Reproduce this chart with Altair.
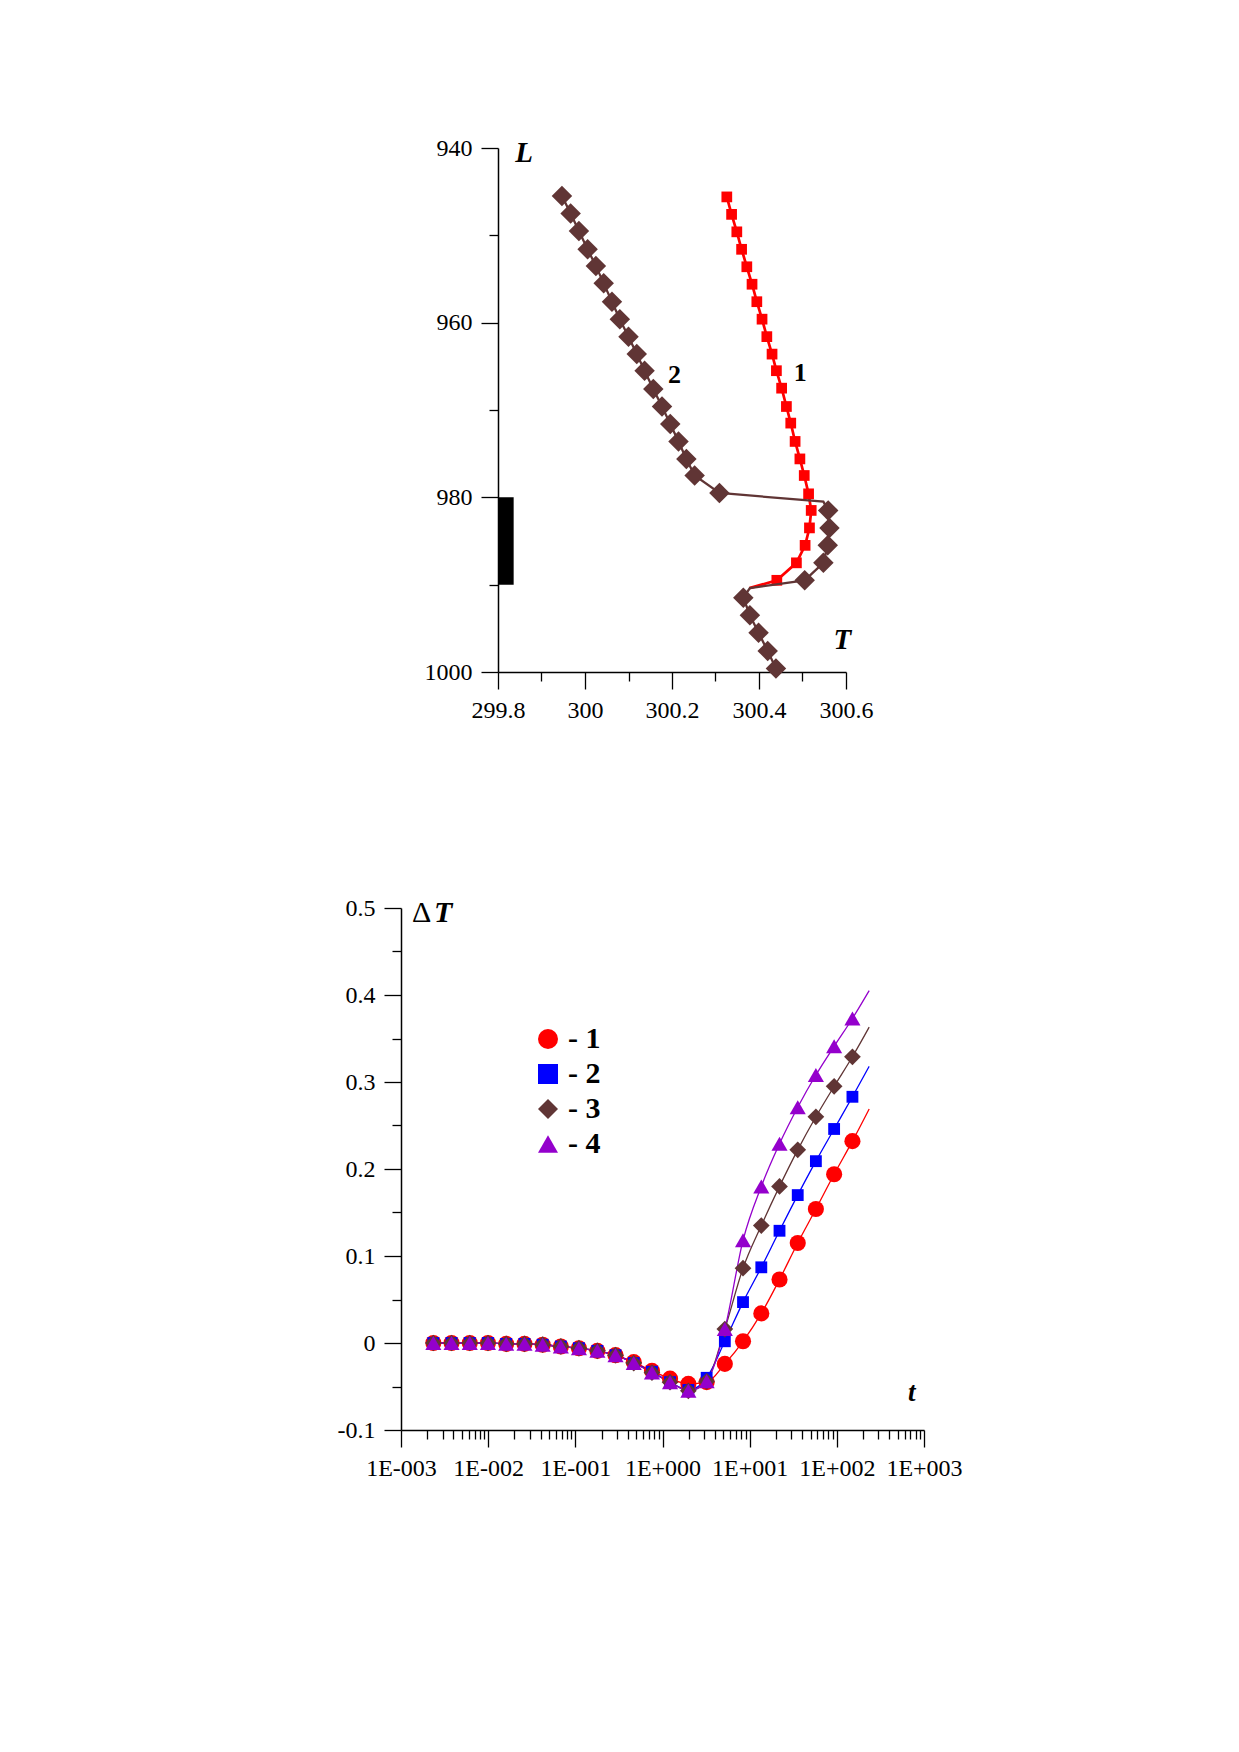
import altair as alt
import pandas as pd

FONT = "Liberation Serif"
RED = "#ff0000"
BLUE = "#0000ff"
BROWN = "#603535"
PURPLE = "#9400cc"

# ---------------- upper panel: profiles T(L) ----------------
L1 = [945.6, 947.6, 949.6, 951.6, 953.6, 955.6, 957.6, 959.6, 961.6, 963.6, 965.5, 967.5,
      969.6, 971.5, 973.6, 975.6, 977.5, 979.6, 981.5, 983.5, 985.5, 987.5, 989.5, 990.4]
T1 = [300.326, 300.337, 300.349, 300.360, 300.372, 300.384, 300.395, 300.407, 300.418, 300.430,
      300.440, 300.452, 300.463, 300.473, 300.483, 300.494, 300.504, 300.514, 300.520, 300.516,
      300.506, 300.486, 300.441, 300.378]
M1 = [1, 1, 1, 1, 1, 1, 1, 1, 1, 1, 1, 1, 1, 1, 1, 1, 1, 1, 1, 1, 1, 1, 1, 0]

L2 = [945.5, 947.5, 949.5, 951.6, 953.5, 955.5, 957.6, 959.6, 961.6, 963.6, 965.5, 967.6,
      969.6, 971.6, 973.6, 975.6, 977.5, 979.5, 980.5, 981.5, 983.5, 985.5, 987.5, 989.5,
      990.4, 991.5, 993.5, 995.5, 997.6, 999.6]
T2 = [299.947, 299.967, 299.986, 300.006, 300.025, 300.043, 300.062, 300.080, 300.100, 300.119,
      300.137, 300.157, 300.177, 300.196, 300.215, 300.233, 300.252, 300.309, 300.548, 300.559,
      300.562, 300.558, 300.548, 300.505, 300.379, 300.364, 300.379, 300.399, 300.420, 300.439]
M2 = [1, 1, 1, 1, 1, 1, 1, 1, 1, 1, 1, 1, 1, 1, 1, 1, 1, 1, 0, 1, 1, 1, 1, 1, 0, 1, 1, 1, 1, 1]

BAR_T = [299.802, 299.836]
BAR_L = [980, 990]

TOP_X_TICKS = [299.8, 300.0, 300.2, 300.4, 300.6]
TOP_X_LABELS = ["299.8", "300", "300.2", "300.4", "300.6"]
TOP_X_MINOR = [299.9, 300.1, 300.3, 300.5]
TOP_Y_TICKS = [940, 960, 980, 1000]
TOP_Y_LABELS = ["940", "960", "980", "1000"]
TOP_Y_MINOR = [950, 970, 990]

TOP_AXIS_TEXT = ["L", "T"]
TOP_AXIS_TEXT_T = [299.8395, 300.571]
TOP_AXIS_TEXT_L = [941.56, 997.37]
TOP_CURVE_TEXT = ["1", "2"]
TOP_CURVE_TEXT_T = [300.495, 300.206]
TOP_CURVE_TEXT_L = [966.64, 966.86]

# ---------------- lower panel: dT(t) ----------------
t_vals = [0.00235, 0.0038, 0.00615, 0.00995, 0.0161, 0.0261, 0.0422, 0.0682, 0.110, 0.179,
          0.289, 0.468, 0.757, 1.22, 1.98, 3.21, 5.19, 8.39, 13.6, 22.0, 35.6, 57.5, 93.1,
          151.0, 235.0]
marker = [1] * 24 + [0]
dT1 = [0.000, 0.000, 0.000, 0.000, -0.001, -0.001, -0.002, -0.004, -0.006, -0.009, -0.014,
       -0.022, -0.032, -0.041, -0.047, -0.045, -0.024, 0.002, 0.034, 0.073, 0.115, 0.154,
       0.194, 0.232, 0.269]
dT2 = [0.000, 0.000, 0.000, 0.000, -0.001, -0.001, -0.002, -0.004, -0.006, -0.009, -0.014,
       -0.023, -0.033, -0.045, -0.054, -0.040, 0.002, 0.047, 0.087, 0.129, 0.170, 0.209,
       0.246, 0.283, 0.318]
dT3 = [0.000, 0.000, 0.000, 0.000, -0.001, -0.001, -0.002, -0.004, -0.006, -0.009, -0.014,
       -0.023, -0.034, -0.045, -0.055, -0.044, 0.016, 0.086, 0.135, 0.180, 0.222, 0.260,
       0.295, 0.329, 0.363]
dT4 = [0.000, 0.000, 0.000, 0.000, -0.001, -0.001, -0.002, -0.004, -0.006, -0.009, -0.014,
       -0.023, -0.034, -0.045, -0.055, -0.044, 0.016, 0.118, 0.180, 0.229, 0.271, 0.308,
       0.341, 0.373, 0.405]
SERIES = ["1", "2", "3", "4"]
SERIES_COLORS = [RED, BLUE, BROWN, PURPLE]
SERIES_SHAPES = ["circle", "square", "diamond", "triangle-up"]
SERIES_SIZES = [260, 140, 280, 260]

BOT_X_TICKS = [0.001, 0.01, 0.1, 1, 10, 100, 1000]
BOT_X_LABELS = ["1E-003", "1E-002", "1E-001", "1E+000", "1E+001", "1E+002", "1E+003"]
BOT_X_MINOR = [m * d for d in [0.001, 0.01, 0.1, 1, 10, 100] for m in range(2, 10)]
BOT_Y_TICKS = [-0.1, 0.0, 0.1, 0.2, 0.3, 0.4, 0.5]
BOT_Y_LABELS = ["-0.1", "0", "0.1", "0.2", "0.3", "0.4", "0.5"]
BOT_Y_MINOR = [-0.05, 0.05, 0.15, 0.25, 0.35, 0.45]

DT_TEXT = ["Δ", "T"]
DT_TEXT_T = [0.001336, 0.00239]
DT_TEXT_V = [0.484, 0.484]
T_TEXT_T = [723.0]
T_TEXT_V = [-0.0662]


# ---------------- helpers ----------------
def label_expr(values, labels):
    expr = "''"
    for v, lab in reversed(list(zip(values, labels))):
        expr = "datum.value == %r ? '%s' : (%s)" % (float(v), lab, expr)
    return expr


def major_test(values):
    return " || ".join("abs(datum.value - %r) < 1e-9" % float(v) for v in values)


def make_axis(major, labels, minor, orient):
    return alt.Axis(
        values=sorted(list(major) + list(minor)),
        labelExpr=label_expr(major, labels),
        tickSize={"condition": {"test": major_test(major), "value": 17}, "value": 9},
        orient=orient, title=None, grid=False, labelFont=FONT, labelFontSize=24,
        labelColor="black", domainColor="black", tickColor="black", domainWidth=1.5,
        tickWidth=1.3, labelPadding=9, labelOverlap=False, labelFlush=False,
        labelBound=False)


# ============ upper panel ============
df1 = pd.DataFrame({"L": L1, "T": T1, "m": M1})
df2 = pd.DataFrame({"L": L2, "T": T2, "m": M2})
bar_df = pd.DataFrame({"Ta": [BAR_T[0]], "Tb": [BAR_T[1]], "La": [BAR_L[0]], "Lb": [BAR_L[1]]})
axis_txt = pd.DataFrame({"T": TOP_AXIS_TEXT_T, "L": TOP_AXIS_TEXT_L, "txt": TOP_AXIS_TEXT})
curve_txt = pd.DataFrame({"T": TOP_CURVE_TEXT_T, "L": TOP_CURVE_TEXT_L, "txt": TOP_CURVE_TEXT})

xs_top = alt.Scale(domain=[299.8, 300.6], nice=False, zero=False)
ys_top = alt.Scale(domain=[940, 1000], nice=False, zero=False, reverse=True)
x_top_axis = make_axis(TOP_X_TICKS, TOP_X_LABELS, TOP_X_MINOR, "bottom")
y_top_axis = make_axis(TOP_Y_TICKS, TOP_Y_LABELS, TOP_Y_MINOR, "left")


def tx(field="T:Q"):
    return alt.X(field, scale=xs_top, axis=x_top_axis)


def ty(field="L:Q"):
    return alt.Y(field, scale=ys_top, axis=y_top_axis)


red_line = alt.Chart(df1).mark_line(color=RED, strokeWidth=2.7).encode(
    x=tx(), y=ty(), order="L:Q")
red_pts = alt.Chart(df1).transform_filter("datum.m == 1").mark_point(
    shape="square", filled=True, size=115, color=RED, opacity=1, strokeWidth=0).encode(
    x=tx(), y=ty())
brown_line = alt.Chart(df2).mark_line(color=BROWN, strokeWidth=2.3).encode(
    x=tx(), y=ty(), order="L:Q")
brown_pts = alt.Chart(df2).transform_filter("datum.m == 1").mark_point(
    shape="diamond", filled=True, size=420, color=BROWN, opacity=1, strokeWidth=0).encode(
    x=tx(), y=ty())
bar_rect = alt.Chart(bar_df).mark_rect(color="black").encode(
    x=tx("Ta:Q"), x2="Tb:Q", y=ty("La:Q"), y2="Lb:Q")
ax_text = alt.Chart(axis_txt).mark_text(
    font=FONT, fontSize=29, fontWeight="bold", fontStyle="italic", color="black",
    align="left", baseline="alphabetic").encode(x=tx(), y=ty(), text="txt:N")
cv_text = alt.Chart(curve_txt).mark_text(
    font=FONT, fontSize=26, fontWeight="bold", color="black",
    align="center", baseline="alphabetic").encode(x=tx(), y=ty(), text="txt:N")

top = alt.layer(red_line, red_pts, brown_line, brown_pts, bar_rect, ax_text, cv_text).properties(
    width=348, height=524)

spacer = alt.Chart(pd.DataFrame({"v": [0]})).mark_point(opacity=0).encode(
    x=alt.X("v:Q", axis=None), y=alt.Y("v:Q", axis=None)).properties(width=23, height=10)

top_row = alt.hconcat(spacer, top, spacing=0)

# ============ lower panel ============
rows = []
for s, col, sz, vals in zip(SERIES, SERIES_COLORS, SERIES_SIZES, [dT1, dT2, dT3, dT4]):
    for tv, dv, mk in zip(t_vals, vals, marker):
        rows.append({"t": tv, "dT": dv, "s": s, "col": col, "sz": sz, "m": mk})
dfb = pd.DataFrame(rows)

xs_b = alt.Scale(type="log", domain=[0.001, 1000], nice=False)
ys_b = alt.Scale(domain=[-0.1, 0.5], nice=False, zero=False)
x_b_axis = make_axis(BOT_X_TICKS, BOT_X_LABELS, BOT_X_MINOR, "bottom")
y_b_axis = make_axis(BOT_Y_TICKS, BOT_Y_LABELS, BOT_Y_MINOR, "left")


def bx():
    return alt.X("t:Q", scale=xs_b, axis=x_b_axis)


def by():
    return alt.Y("dT:Q", scale=ys_b, axis=y_b_axis)


legend = alt.Legend(orient="none", legendX=132, legendY=116, title=None, padding=0,
                    labelFont=FONT, labelFontSize=30, labelFontWeight="bold", labelColor="black",
                    labelExpr="'- ' + datum.label", symbolSize=400, symbolStrokeWidth=0,
                    symbolOpacity=1, rowPadding=5, labelOffset=5, direction="vertical")

b_lines = alt.Chart(dfb).mark_line(strokeWidth=1.3, interpolate="monotone").encode(
    x=bx(), y=by(), stroke=alt.Stroke("col:N", scale=None), detail="s:N")
b_pts = alt.Chart(dfb).transform_filter("datum.m == 1").mark_point(
    filled=True, opacity=1, strokeWidth=0).encode(
    x=bx(), y=by(),
    color=alt.Color("s:N", scale=alt.Scale(domain=SERIES, range=SERIES_COLORS), legend=legend),
    shape=alt.Shape("s:N", scale=alt.Scale(domain=SERIES, range=SERIES_SHAPES), legend=legend),
    size=alt.Size("sz:Q", scale=None))

delta_txt = alt.Chart(pd.DataFrame({"t": DT_TEXT_T[:1], "dT": DT_TEXT_V[:1], "txt": DT_TEXT[:1]})).mark_text(
    font=FONT, fontSize=30, color="black", align="left", baseline="alphabetic").encode(
    x=bx(), y=by(), text="txt:N")
T_txt = alt.Chart(pd.DataFrame({"t": DT_TEXT_T[1:], "dT": DT_TEXT_V[1:], "txt": DT_TEXT[1:]})).mark_text(
    font=FONT, fontSize=30, fontWeight="bold", fontStyle="italic", color="black",
    align="left", baseline="alphabetic").encode(x=bx(), y=by(), text="txt:N")
t_txt = alt.Chart(pd.DataFrame({"t": T_TEXT_T, "dT": T_TEXT_V, "txt": ["t"]})).mark_text(
    font=FONT, fontSize=27, fontWeight="bold", fontStyle="italic", color="black",
    align="center", baseline="alphabetic").encode(x=bx(), y=by(), text="txt:N")

bottom = alt.layer(b_lines, b_pts, delta_txt, T_txt, t_txt).properties(width=523, height=522)

chart = alt.vconcat(top_row, bottom, spacing=174).resolve_legend(
    color="independent", shape="independent"
).properties(
    padding={"left": 329, "top": 128, "right": 20, "bottom": 20}
).configure_view(strokeWidth=0)

chart.save("out.html", embed_options={"renderer": "svg", "actions": False})
